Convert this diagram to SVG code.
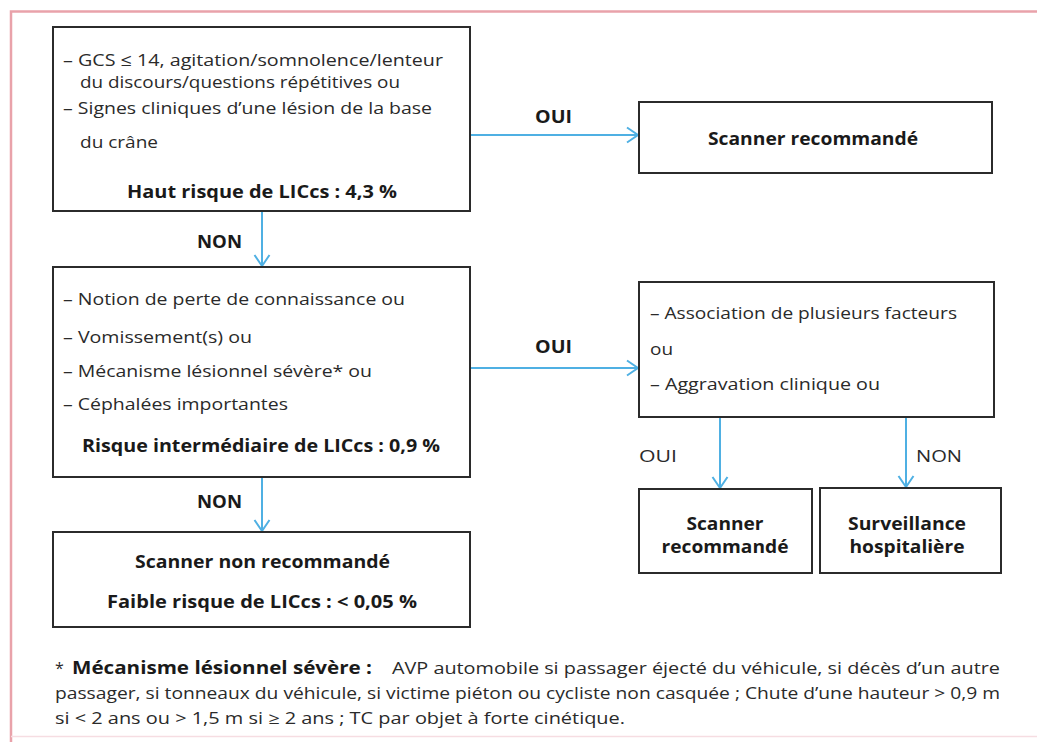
<svg xmlns="http://www.w3.org/2000/svg" width="1037" height="742" viewBox="0 0 1037 742">
<defs>
<marker id="arr" markerUnits="userSpaceOnUse" markerWidth="16" markerHeight="18" refX="12" refY="8" orient="auto" viewBox="0 0 16 16">
<path d="M1,0.5 L12,8 L1,15.5" fill="none" stroke="#4fb0e3" stroke-width="2"/>
</marker>
<style>
.box{fill:#fff;stroke:#2b2b2b;stroke-width:2}
.t{font-family:"Open Sans","Noto Sans",sans-serif;font-size:17px;fill:#2a2a2a}
.b{font-family:"Open Sans","Noto Sans",sans-serif;font-size:17.5px;font-weight:bold;fill:#1a1a1a}
.m{text-anchor:middle}
.f{font-family:"Open Sans","Noto Sans",sans-serif;font-size:16px;fill:#2a2a2a}
.fb{font-family:"Open Sans","Noto Sans",sans-serif;font-size:17.5px;font-weight:bold;fill:#1a1a1a}
.c{fill:none;stroke:#4fb0e3;stroke-width:2;marker-end:url(#arr)}
</style>
</defs>
<rect width="1037" height="742" fill="#fff"/>
<path d="M1040,11.5 H11 V742" fill="none" stroke="#e9a2aa" stroke-width="2.5"/>
<path d="M11,736.5 H1040" fill="none" stroke="#f6dde2" stroke-width="1.5"/>

<g id="connectors">
<path class="c" d="M470,135 H638"/>
<path class="c" d="M262,211 V266"/>
<path class="c" d="M470,368 H638"/>
<path class="c" d="M262,477 V531"/>
<path class="c" d="M720,417 V488"/>
<path class="c" d="M906,417 V487"/>
<text class="b" x="535" y="123" textLength="37" lengthAdjust="spacingAndGlyphs">OUI</text>
<text class="b" x="197" y="248" textLength="45" lengthAdjust="spacingAndGlyphs">NON</text>
<text class="b" x="535" y="353" textLength="37" lengthAdjust="spacingAndGlyphs">OUI</text>
<text class="b" x="197" y="508" textLength="45" lengthAdjust="spacingAndGlyphs">NON</text>
<text class="t" x="639" y="462" textLength="38" lengthAdjust="spacingAndGlyphs">OUI</text>
<text class="t" x="916" y="462" textLength="46" lengthAdjust="spacingAndGlyphs">NON</text>
</g>

<g id="n1">
<rect class="box" x="53" y="27" width="417" height="184"/>
<text class="t" x="63" y="66" textLength="380" lengthAdjust="spacingAndGlyphs">– GCS ≤ 14, agitation/somnolence/lenteur</text>
<text class="t" x="80" y="88" textLength="320" lengthAdjust="spacingAndGlyphs">du discours/questions répétitives ou</text>
<text class="t" x="63" y="114" textLength="369" lengthAdjust="spacingAndGlyphs">– Signes cliniques d’une lésion de la base</text>
<text class="t" x="80" y="148" textLength="78" lengthAdjust="spacingAndGlyphs">du crâne</text>
<text class="b" x="127" y="198" textLength="270" lengthAdjust="spacingAndGlyphs">Haut risque de LICcs : 4,3 %</text>
</g>

<g id="n2">
<rect class="box" x="639" y="102" width="353" height="71"/>
<text class="b" x="708" y="145" textLength="210" lengthAdjust="spacingAndGlyphs">Scanner recommandé</text>
</g>

<g id="n3">
<rect class="box" x="53" y="267" width="417" height="210"/>
<text class="t" x="63" y="305" textLength="342" lengthAdjust="spacingAndGlyphs">– Notion de perte de connaissance ou</text>
<text class="t" x="63" y="343" textLength="189" lengthAdjust="spacingAndGlyphs">– Vomissement(s) ou</text>
<text class="t" x="63" y="377" textLength="309" lengthAdjust="spacingAndGlyphs">– Mécanisme lésionnel sévère* ou</text>
<text class="t" x="63" y="410" textLength="225" lengthAdjust="spacingAndGlyphs">– Céphalées importantes</text>
<text class="b" x="82" y="452" textLength="358" lengthAdjust="spacingAndGlyphs">Risque intermédiaire de LICcs : 0,9 %</text>
</g>

<g id="n4">
<rect class="box" x="639" y="282" width="355" height="135"/>
<text class="t" x="650" y="319" textLength="307" lengthAdjust="spacingAndGlyphs">– Association de plusieurs facteurs</text>
<text class="t" x="650" y="355" textLength="23" lengthAdjust="spacingAndGlyphs">ou</text>
<text class="t" x="650" y="390" textLength="230" lengthAdjust="spacingAndGlyphs">– Aggravation clinique ou</text>
</g>

<g id="n5">
<rect class="box" x="639" y="489" width="173" height="84"/>
<text class="b m" x="725" y="530" textLength="77" lengthAdjust="spacingAndGlyphs">Scanner</text>
<text class="b m" x="725" y="553" textLength="127" lengthAdjust="spacingAndGlyphs">recommandé</text>
</g>

<g id="n6">
<rect class="box" x="820" y="488" width="181" height="85"/>
<text class="b m" x="907" y="530" textLength="118" lengthAdjust="spacingAndGlyphs">Surveillance</text>
<text class="b m" x="907" y="553" textLength="115" lengthAdjust="spacingAndGlyphs">hospitalière</text>
</g>

<g id="n7">
<rect class="box" x="53" y="532" width="417" height="95"/>
<text class="b" x="135" y="568" textLength="255" lengthAdjust="spacingAndGlyphs">Scanner non recommandé</text>
<text class="b" x="107" y="608" textLength="310" lengthAdjust="spacingAndGlyphs">Faible risque de LICcs : &lt; 0,05 %</text>
</g>

<g id="footnote">
<text class="f" x="55" y="674">*</text>
<text class="fb" x="72" y="674" textLength="300" lengthAdjust="spacingAndGlyphs">Mécanisme lésionnel sévère :</text>
<text class="f" x="392" y="674" textLength="608" lengthAdjust="spacingAndGlyphs">AVP automobile si passager éjecté du véhicule, si décès d’un autre</text>
<text class="f" x="55" y="699" textLength="945" lengthAdjust="spacingAndGlyphs">passager, si tonneaux du véhicule, si victime piéton ou cycliste non casquée ; Chute d’une hauteur &gt; 0,9 m</text>
<text class="f" x="55" y="724" textLength="570" lengthAdjust="spacingAndGlyphs">si &lt; 2 ans ou &gt; 1,5 m si ≥ 2 ans ; TC par objet à forte cinétique.</text>
</g>
</svg>
